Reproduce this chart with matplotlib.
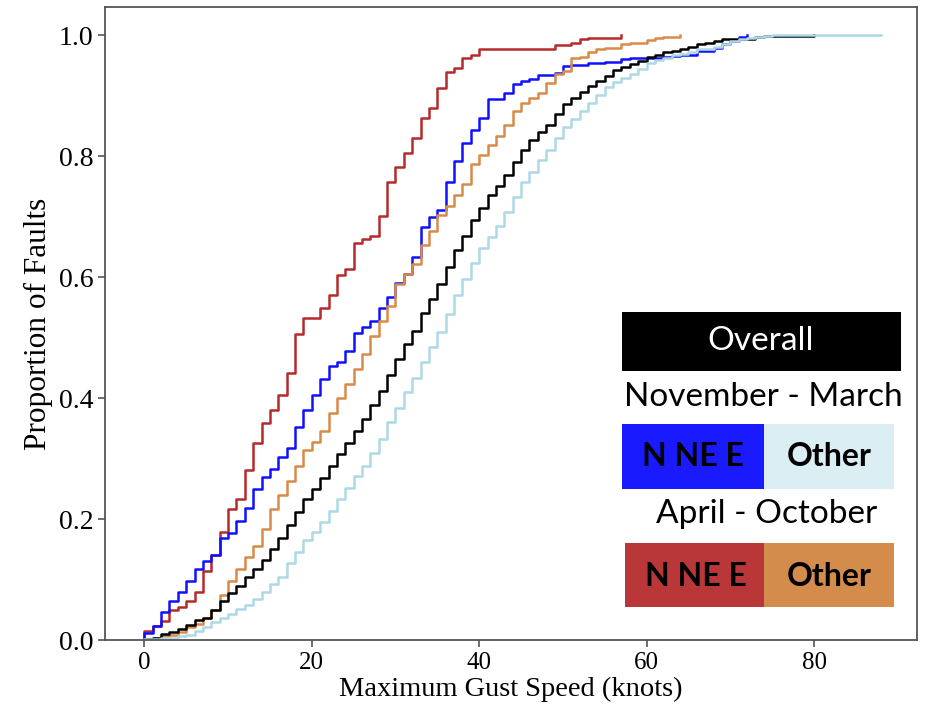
import matplotlib
matplotlib.use("Agg")
import matplotlib.pyplot as plt
from matplotlib.patches import Rectangle
import numpy as np

# cumulative proportion of faults at each integer gust speed (knots), starting at 0 kt
overall = [
    0.002, 0.004, 0.010, 0.014, 0.018, 0.025, 0.033, 0.037, 0.049, 0.065,
    0.077, 0.090, 0.104, 0.118, 0.133, 0.150, 0.168, 0.190, 0.212, 0.233,
    0.249, 0.268, 0.288, 0.307, 0.326, 0.346, 0.366, 0.389, 0.412, 0.439,
    0.465, 0.489, 0.511, 0.541, 0.564, 0.589, 0.617, 0.645, 0.669, 0.695,
    0.715, 0.736, 0.751, 0.769, 0.791, 0.811, 0.827, 0.840, 0.852, 0.870,
    0.886, 0.897, 0.907, 0.916, 0.925, 0.933, 0.942, 0.948, 0.953, 0.958,
    0.964, 0.968, 0.972, 0.975, 0.977, 0.981, 0.985, 0.988, 0.990, 0.994,
    0.994, 0.994, 0.994, 0.998, 0.999, 0.999, 0.999, 0.999, 0.999, 0.999,
    1.000,
]
winter_nne = [
    0.012, 0.023, 0.047, 0.065, 0.079, 0.098, 0.118, 0.130, 0.141, 0.168,
    0.177, 0.197, 0.219, 0.249, 0.269, 0.283, 0.303, 0.317, 0.353, 0.381,
    0.406, 0.431, 0.454, 0.460, 0.478, 0.507, 0.517, 0.528, 0.549, 0.567,
    0.591, 0.606, 0.633, 0.683, 0.700, 0.711, 0.758, 0.793, 0.822, 0.844,
    0.864, 0.895, 0.895, 0.905, 0.920, 0.925, 0.928, 0.934, 0.934, 0.938,
    0.950, 0.951, 0.951, 0.954, 0.954, 0.956, 0.956, 0.961, 0.962, 0.962,
    0.963, 0.963, 0.965, 0.966, 0.968, 0.968, 0.975, 0.975, 0.979, 0.985,
    0.990, 0.997, 1.000,
]
winter_other = [
    0.001, 0.002, 0.003, 0.004, 0.006, 0.009, 0.015, 0.021, 0.029, 0.036,
    0.043, 0.051, 0.058, 0.068, 0.079, 0.092, 0.105, 0.128, 0.145, 0.165,
    0.178, 0.196, 0.213, 0.233, 0.251, 0.272, 0.287, 0.309, 0.332, 0.360,
    0.384, 0.410, 0.434, 0.460, 0.484, 0.510, 0.539, 0.571, 0.597, 0.623,
    0.648, 0.667, 0.684, 0.708, 0.733, 0.757, 0.774, 0.794, 0.811, 0.830,
    0.848, 0.862, 0.875, 0.889, 0.902, 0.915, 0.923, 0.929, 0.937, 0.945,
    0.955, 0.960, 0.963, 0.967, 0.970, 0.973, 0.977, 0.978, 0.981, 0.986,
    0.990, 0.994, 0.996, 0.998, 0.999, 1.000, 1.000, 1.000, 1.000, 1.000,
    1.000, 1.000, 1.000, 1.000, 1.000, 1.000, 1.000, 1.000, 1.000,
]
summer_nne = [
    0.015, 0.023, 0.032, 0.049, 0.055, 0.065, 0.080, 0.114, 0.141, 0.179,
    0.216, 0.233, 0.282, 0.326, 0.359, 0.381, 0.406, 0.441, 0.506, 0.532,
    0.532, 0.549, 0.571, 0.603, 0.614, 0.657, 0.663, 0.668, 0.702, 0.757,
    0.783, 0.805, 0.831, 0.864, 0.880, 0.913, 0.940, 0.946, 0.962, 0.968,
    0.978, 0.978, 0.978, 0.978, 0.978, 0.978, 0.978, 0.978, 0.978, 0.984,
    0.984, 0.988, 0.994, 0.995, 0.995, 0.995, 0.995, 1.000,
]
summer_other = [
    0.002, 0.004, 0.006, 0.009, 0.014, 0.021, 0.027, 0.037, 0.049, 0.075,
    0.098, 0.118, 0.138, 0.156, 0.184, 0.217, 0.240, 0.263, 0.288, 0.314,
    0.327, 0.345, 0.376, 0.400, 0.423, 0.448, 0.473, 0.502, 0.528, 0.552,
    0.589, 0.606, 0.622, 0.654, 0.676, 0.703, 0.718, 0.736, 0.755, 0.787,
    0.803, 0.819, 0.833, 0.852, 0.875, 0.889, 0.897, 0.905, 0.922, 0.936,
    0.941, 0.962, 0.965, 0.972, 0.977, 0.980, 0.980, 0.985, 0.987, 0.988,
    0.992, 0.995, 0.997, 0.998, 1.000,
]

x_ticks = [0, 20, 40, 60, 80]
y_ticks = [0.0, 0.2, 0.4, 0.6, 0.8, 1.0]

W, H = 927, 709


def ecdf_line(ax, vals, color):
    speeds = np.arange(len(vals))
    xs = np.concatenate([[0], speeds])
    ys = np.concatenate([[0.0], vals])
    ax.step(xs, ys, where="post", color=color, linewidth=1.8)


def box(fig, x0, y0, x1, y1, color):
    # pixel coords, y from the top
    fig.add_artist(Rectangle((x0 / W, 1 - y1 / H), (x1 - x0) / W, (y1 - y0) / H,
                             transform=fig.transFigure, facecolor=color,
                             edgecolor="none", zorder=5))


def label(fig, x, y, s, color="black", weight="normal", size=24):
    fig.text(x / W, 1 - y / H, s, ha="center", va="center", color=color,
             fontsize=size, fontweight=weight, family="Lato", zorder=6)


def main():
    fig = plt.figure(figsize=(W / 100, H / 100), dpi=100)
    ax = fig.add_axes([105 / W, 1 - 640 / H, (917 - 105) / W, (640 - 7) / H])

    ecdf_line(ax, summer_nne, "#b52a2c")
    ecdf_line(ax, winter_nne, "#1010ff")
    ecdf_line(ax, summer_other, "#d98a48")
    ecdf_line(ax, overall, "black")
    ecdf_line(ax, winter_other, "#add8e6")

    ax.set_xlim(-4.7, 92.3)
    ax.set_ylim(0, 1.047)
    ax.set_xticks(x_ticks)
    ax.set_yticks(y_ticks)
    ax.set_yticklabels(["%.1f" % v for v in y_ticks])
    for sp in ax.spines.values():
        sp.set_color("#555555")
        sp.set_linewidth(1.3)
    ax.tick_params(axis="both", color="#555555", length=5, width=1.2)
    for t in ax.get_xticklabels():
        t.set_family("Liberation Serif")
        t.set_fontsize(18)
    for t in ax.get_yticklabels():
        t.set_family("Liberation Serif")
        t.set_fontsize(20)
    ax.set_xlabel("Maximum Gust Speed (knots)", family="Liberation Serif",
                  fontsize=20.5, labelpad=2)
    ax.set_ylabel("Proportion of Faults", family="Liberation Serif",
                  fontsize=22.5, labelpad=4)

    # hand-made legend
    box(fig, 622, 312, 901, 371, "black")
    label(fig, 761, 341, "Overall", color="white")
    label(fig, 763, 397, "November - March")
    box(fig, 622, 424, 764, 489, "#1a1aff")
    box(fig, 764, 424, 894, 489, "#daeef3")
    label(fig, 693, 457, "N NE E", weight="bold", size=23)
    label(fig, 829, 457, "Other", weight="bold", size=23)
    label(fig, 767, 514, "April - October")
    box(fig, 625, 543, 764, 607, "#b93639")
    box(fig, 764, 543, 894, 607, "#d38c4c")
    label(fig, 696, 576, "N NE E", weight="bold", size=23)
    label(fig, 829, 576, "Other", weight="bold", size=23)

    fig.savefig("out.png", dpi=100)


if __name__ == "__main__":
    main()
